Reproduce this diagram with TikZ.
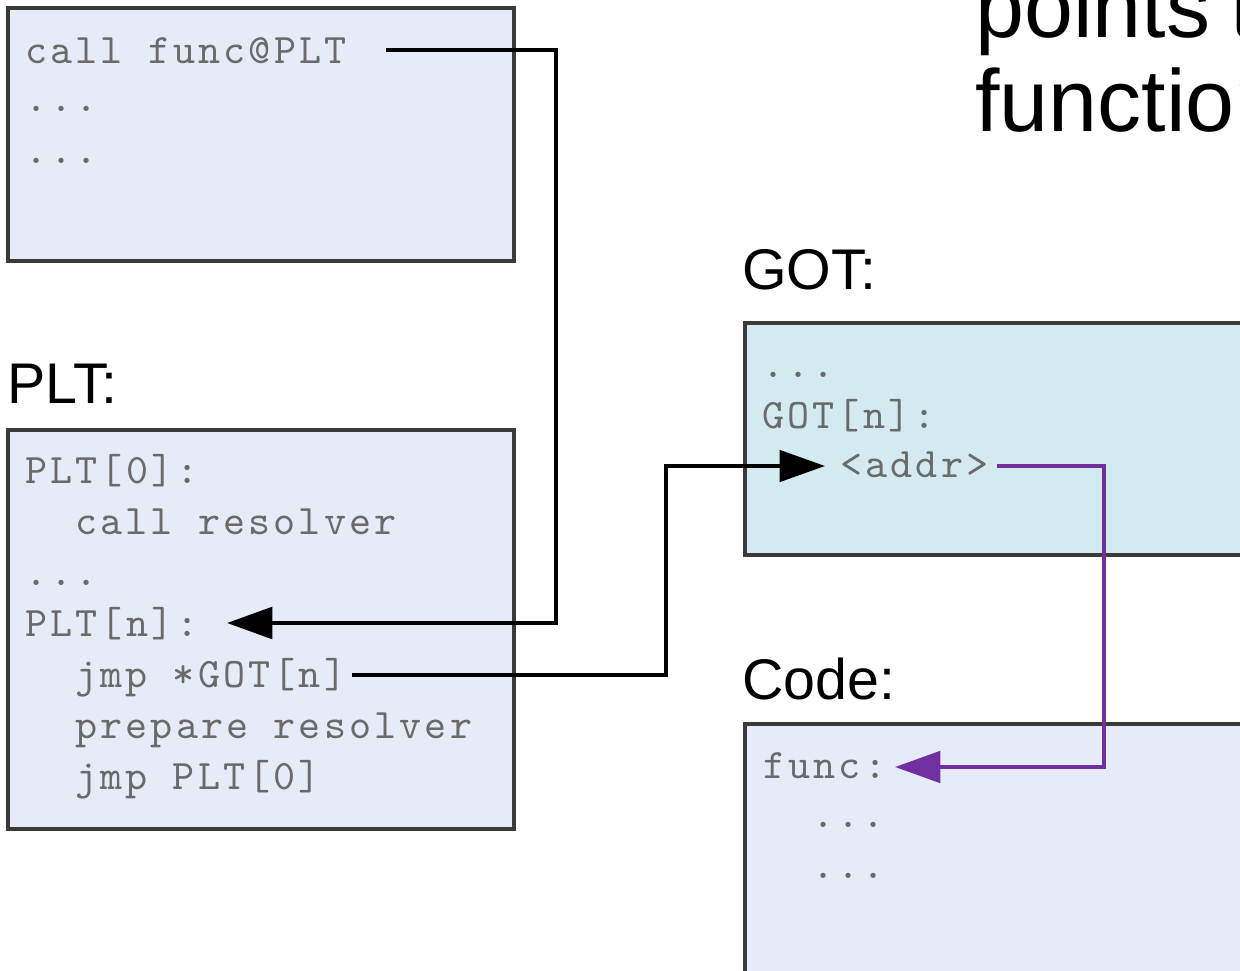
\documentclass[tikz,border=0pt]{standalone}
\usepackage{fontspec}
\setmainfont{Liberation Sans}
\newfontfamily\codefont{lmmono10-regular.otf}[LetterSpace=7.5]
\usetikzlibrary{arrows.meta,calc}
\definecolor{boxfill}{HTML}{E6ECF7}
\definecolor{gotfill}{HTML}{D3EAF0}
\definecolor{boxline}{HTML}{3A3A3A}
\definecolor{codetxt}{HTML}{6A6A6A}
\definecolor{purp}{HTML}{7030A0}
\begin{document}
\begin{tikzpicture}[x=0.75pt,y=-0.75pt,
  memblock/.style={draw=boxline, line width=2.3pt, fill=boxfill, anchor=north west, inner sep=0pt, outer sep=0pt},
  codeline/.style={font=\fontsize{31.5pt}{38pt}\selectfont\codefont, text=codetxt, inner sep=0pt, anchor=base west},
  heading/.style={font=\fontsize{43pt}{50pt}\selectfont, inner sep=0pt, anchor=base west},
  bigtext/.style={font=\fontsize{66pt}{73pt}\selectfont, inner sep=0pt, anchor=base west},
  tip/.style={-{Triangle[length=34pt,width=23.5pt]}},
  conn/.style={draw=black, line width=2.6pt, tip},
  callconn/.style={draw=black, line width=3.6pt, tip},
  ptrconn/.style={draw=purp, line width=3pt, tip}]
\useasboundingbox (0,0) rectangle (1240,971);
\clip (0,0) rectangle (1240,971);

% boxes
\node[memblock, minimum width=379.5pt, minimum height=189.75pt] (caller) at (8,8) {};
\node[memblock, minimum width=379.5pt, minimum height=299.25pt] (plt) at (8,430) {};
\node[memblock, fill=gotfill, minimum width=420pt, minimum height=174pt] (got) at (745,323) {};
\node[memblock, minimum width=420pt, minimum height=220pt] (code) at (745,724) {};

% headings
\node[heading] (pltlbl) at (7,403) {PLT:};
\node[heading] (gotlbl) at (742,289) {GOT:};
\node[heading] (codelbl) at (742,699) {Code:};
\node[bigtext] (pt1) at (975,37) {points\hspace{0.23em}to};
\node[bigtext] (pt2) at (975,131) {function};

% caller text
\node[codeline] (callf) at (25,63) {call func@PLT};
\node[codeline] (cdots1) at (25,111) {...};
\node[codeline] (cdots2) at (25,163) {...};

% PLT text
\node[codeline] (plt0) at (25,483) {PLT[0]:};
\node[codeline] (callres) at (75,534) {call resolver};
\node[codeline] (pdots) at (25,585) {...};
\node[codeline] (pltn) at (25,636) {PLT[n]:};
\node[codeline] (jmpgot) at (75,687) {jmp *GOT[n]};
\node[codeline] (prep) at (75,738) {prepare resolver};
\node[codeline] (jmpplt) at (75,789) {jmp PLT[0]};

% GOT text
\node[codeline] (gdots) at (762,377) {...};
\node[codeline] (gotn) at (762,428) {GOT[n]:};
\node[codeline] (addr) at (840,477) {<addr>};

% Code text
\node[codeline] (func) at (763,778) {func:};
\node[codeline] (fdots1) at (812,827) {...};
\node[codeline] (fdots2) at (812,878) {...};

% bend points
\coordinate (r1) at (556,300);
\coordinate (r2) at (666,570);
\coordinate (r3) at (1104,600);

% connectors
\draw[callconn] ($(callf.base west)+(361,-13)$) -| (r1) |- ($(pltn.base west)+(202,-13)$);
\draw[conn] ($(jmpgot.base west)+(277,-12)$) -| (r2) |- ($(addr.base west)+(-15,-11)$);
\draw[ptrconn] ($(addr.base west)+(157,-11)$) -| (r3) |- ($(func.base west)+(132,-11)$);
\end{tikzpicture}
\end{document}
